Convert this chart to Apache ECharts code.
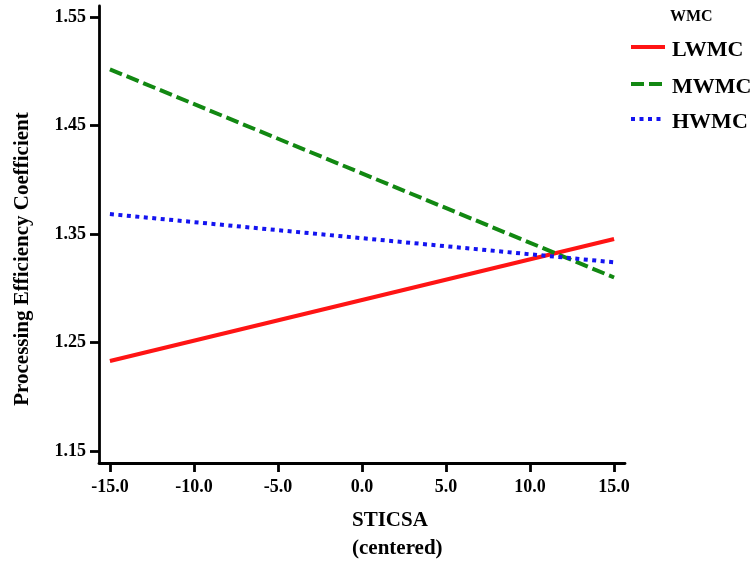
<!DOCTYPE html>
<html>
<head>
<meta charset="utf-8">
<script src="https://cdn.jsdelivr.net/npm/echarts@6/dist/echarts.min.js"></script>
<style>html,body{margin:0;padding:0;background:#fff}#c{width:755px;height:563px}</style>
</head>
<body>
<div id="c"></div>
<script>
const xValues = [-15, 15];
const lwmc = [1.233, 1.3455];
const mwmc = [1.502, 1.3100];
const hwmc = [1.3685, 1.3240];
const xTicks = [-15, -10, -5, 0, 5, 10, 15];
const yTicks = [1.15, 1.25, 1.35, 1.45, 1.55];
const seriesNames = ['LWMC', 'MWMC', 'HWMC'];
const colors = ['#ff1414', '#128812', '#1414f0'];
const dashes = [null, [13, 5], [4, 4.5]];

const font = 'Liberation Serif';
const chart = echarts.init(document.getElementById('c'));
const mk = (i, vals) => ({
  name: seriesNames[i], type: 'line', data: xValues.map((x, k) => [x, vals[k]]),
  showSymbol: false, symbol: 'none', animation: false,
  lineStyle: { color: colors[i], width: 4, type: dashes[i] || 'solid', cap: 'butt' },
  itemStyle: { color: colors[i] }
});
const legendGraphics = [];
const legendY = [47, 84, 119];
const textY = [50, 87, 122];
seriesNames.forEach((n, i) => {
  legendGraphics.push({ type: 'line', shape: { x1: 631, y1: legendY[i], x2: 665, y2: legendY[i] },
    style: { stroke: colors[i], lineWidth: 4, lineDash: dashes[i] || null } });
  legendGraphics.push({ type: 'text', x: 672, y: textY[i],
    style: { text: n, fill: '#000', font: 'bold 22px "Liberation Serif"', verticalAlign: 'middle' } });
});
chart.setOption({
  animation: false,
  grid: { left: 99, right: 130, top: 6, bottom: 100, containLabel: false },
  xAxis: {
    type: 'value', min: -15.65, max: 15.65,
    splitLine: { show: false },
    axisLine: { lineStyle: { color: '#000', width: 2.8 } },
    axisTick: { customValues: xTicks, length: 9, lineStyle: { color: '#000', width: 2.8 } },
    axisLabel: { customValues: xTicks, formatter: v => v.toFixed(1), color: '#000', fontFamily: font, fontWeight: 'bold', fontSize: 18, margin: 15 }
  },
  yAxis: {
    type: 'value', min: 1.1389, max: 1.5604,
    splitLine: { show: false },
    axisLine: { show: true, onZero: false, lineStyle: { color: '#000', width: 2.8 } },
    axisTick: { show: true, customValues: yTicks, length: 9, lineStyle: { color: '#000', width: 2.8 } },
    axisLabel: { customValues: yTicks, formatter: v => v.toFixed(2), color: '#000', fontFamily: font, fontWeight: 'bold', fontSize: 18, margin: 13 }
  },
  graphic: legendGraphics.concat([
    { type: 'text', x: 670, y: 17, style: { text: 'WMC', fill: '#000', font: 'bold 16px "Liberation Serif"', verticalAlign: 'middle' } },
    { type: 'text', x: 352, y: 521, style: { text: 'STICSA', fill: '#000', font: 'bold 21px "Liberation Serif"', verticalAlign: 'middle' } },
    { type: 'text', x: 352, y: 549, style: { text: '(centered)', fill: '#000', font: 'bold 21px "Liberation Serif"', verticalAlign: 'middle' } },
    { type: 'text', x: 23, y: 259, rotation: Math.PI / 2, style: { text: 'Processing Efficiency Coefficient', fill: '#000', font: 'bold 21px "Liberation Serif"', align: 'center', verticalAlign: 'middle' } }
  ]),
  series: [mk(0, lwmc), mk(1, mwmc), mk(2, hwmc)]
});
</script>
</body>
</html>
